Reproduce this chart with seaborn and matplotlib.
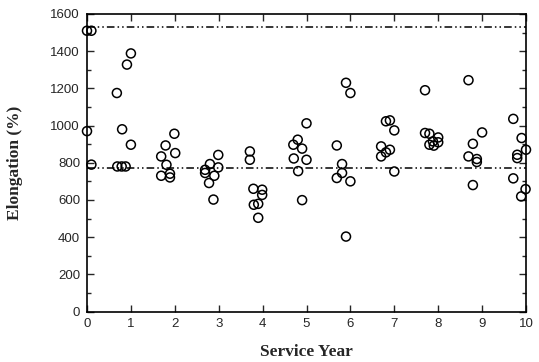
import matplotlib
matplotlib.use("Agg")
import matplotlib.pyplot as plt
import seaborn as sns
import pandas as pd

# --- data ---
service_year = [
    0.0, 0.1, 0.0, 0.1,
    0.68, 0.91, 1.0, 0.8, 1.0, 0.69, 0.79, 0.88,
    1.69, 1.79, 1.99, 2.01, 1.81, 1.69, 1.89, 1.89,
    2.99, 2.8, 2.69, 2.69, 2.9, 2.78, 2.88, 2.99,
    3.71, 3.71, 3.79, 3.99, 3.99, 3.8, 3.9, 3.9,
    4.8, 4.7, 4.9, 4.71, 5.0, 4.81, 4.9, 5.0,
    5.69, 5.81, 5.81, 5.69, 6.0, 5.9, 5.9, 6.0,
    6.81, 6.9, 7.0, 6.7, 6.81, 6.9, 6.7, 7.0,
    7.7, 7.7, 7.8, 8.0, 7.88, 7.8, 7.9, 8.0,
    8.69, 9.0, 8.79, 8.69, 8.88, 8.88, 8.79,
    9.71, 9.9, 10.0, 9.8, 9.8, 9.71, 9.99, 9.89,
]
elongation = [
    1510, 1510, 970, 790,
    1175, 1328, 1388, 980, 897, 780, 780, 780,
    834, 893, 956, 852, 789, 730, 741, 721,
    842, 793, 762, 745, 730, 691, 602, 775,
    861, 816, 660, 655, 627, 574, 579, 504,
    924, 897, 876, 823, 816, 755, 599, 1012,
    893, 793, 745, 718, 700, 403, 1230, 1175,
    1023, 1028, 974, 888, 856, 870, 834, 753,
    1190, 960, 956, 936, 915, 897, 892, 910,
    1244, 963, 902, 834, 820, 804, 680,
    1036, 933, 870, 843, 825, 716, 658, 619,
]
reference_levels = [1530, 770]
x_ticks = [0, 1, 2, 3, 4, 5, 6, 7, 8, 9, 10]
y_ticks = [0, 200, 400, 600, 800, 1000, 1200, 1400, 1600]

df = pd.DataFrame({"Service Year": service_year, "Elongation (%)": elongation})

sns.set_style("ticks")
fig = plt.figure(figsize=(5.39, 3.62), dpi=100)
ax = fig.add_axes([87 / 539, 1 - 311.5 / 362, (526 - 87) / 539, (311.5 - 14) / 362])

sns.scatterplot(data=df, x="Service Year", y="Elongation (%)", ax=ax,
                marker="o", s=42, facecolor="none", edgecolor="black",
                linewidth=1.1, clip_on=False, zorder=3)

for lvl in reference_levels:
    ax.axhline(lvl, color="black", linewidth=1.1, dashes=(5, 2, 1, 2, 1, 2), zorder=2)

ax.set_xlim(0, 10)
ax.set_ylim(0, 1600)
ax.set_xticks(x_ticks)
ax.set_yticks(y_ticks)
ax.set_yticks(range(100, 1600, 200), minor=True)
ax.tick_params(which="both", direction="in", top=True, right=True, width=1.0)
ax.tick_params(which="major", length=5, labelsize=9.5, pad=5)
ax.tick_params(which="minor", length=3)
for lab in ax.get_xticklabels() + ax.get_yticklabels():
    lab.set_family("Liberation Sans")
for s in ax.spines.values():
    s.set_linewidth(1.2)
    s.set_color("black")

ax.set_xlabel("Service Year", family="Liberation Serif", fontweight="bold", fontsize=12.5, labelpad=10)
ax.set_ylabel("Elongation (%)", family="Liberation Serif", fontweight="bold", fontsize=12.5, labelpad=20)

fig.savefig("out.png", dpi=100)
